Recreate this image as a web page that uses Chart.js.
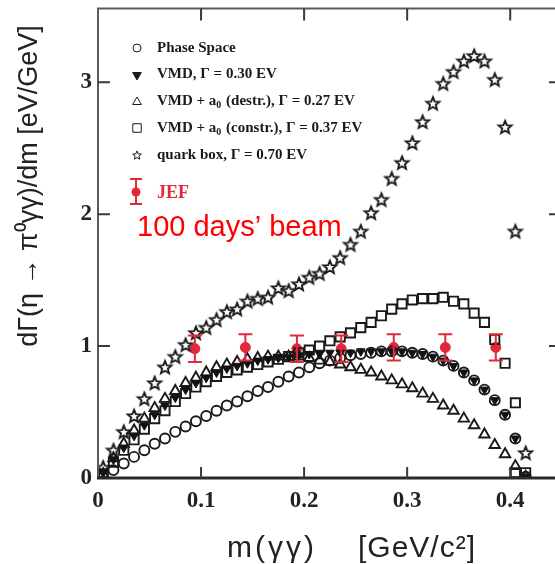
<!DOCTYPE html>
<html>
<head>
<meta charset="utf-8">
<script src="https://cdn.jsdelivr.net/npm/chart.js@4.4.1/dist/chart.umd.min.js"></script>
<style>
  html, body { margin: 0; padding: 0; background: #fff; overflow: hidden; }
  #wrap { width: 555px; height: 564px; position: relative; }
</style>
</head>
<body>
<div id="wrap"><canvas id="chart" width="555" height="564"></canvas></div>
<script>
// m(gamma gamma) bin centres of the model curves [GeV/c^2]
const massBins = [0.005, 0.015, 0.025, 0.035, 0.045, 0.055, 0.065, 0.075, 0.085, 0.095,
                  0.105, 0.115, 0.125, 0.135, 0.145, 0.155, 0.165, 0.175, 0.185, 0.195,
                  0.205, 0.215, 0.225, 0.235, 0.245, 0.255, 0.265, 0.275, 0.285, 0.295,
                  0.305, 0.315, 0.325, 0.335, 0.345, 0.355, 0.365, 0.375, 0.385, 0.395,
                  0.405, 0.415];

const phaseSpace = [0.01, 0.06, 0.11, 0.16, 0.21, 0.26, 0.30, 0.35, 0.39, 0.43,
                    0.47, 0.51, 0.55, 0.58, 0.62, 0.66, 0.69, 0.73, 0.77, 0.80,
                    0.84, 0.87, 0.89, 0.91, 0.93, 0.94, 0.95, 0.96, 0.96, 0.96,
                    0.95, 0.94, 0.92, 0.89, 0.85, 0.80, 0.74, 0.67, 0.59, 0.48,
                    0.30, 0.01];

const vmd = [0.04, 0.14, 0.23, 0.32, 0.40, 0.48, 0.55, 0.61, 0.67, 0.72,
             0.76, 0.80, 0.83, 0.85, 0.87, 0.89, 0.90, 0.91, 0.92, 0.93,
             0.94, 0.94, 0.95, 0.95, 0.95, 0.96, 0.96, 0.96, 0.96, 0.96,
             0.95, 0.94, 0.92, 0.89, 0.85, 0.80, 0.74, 0.67, 0.59, 0.48,
             0.30, 0.01];

const vmdDestr = [0.03, 0.15, 0.26, 0.36, 0.45, 0.53, 0.60, 0.66, 0.72, 0.76,
                  0.80, 0.84, 0.86, 0.88, 0.90, 0.91, 0.92, 0.92, 0.92, 0.92,
                  0.91, 0.89, 0.88, 0.86, 0.84, 0.82, 0.80, 0.77, 0.74, 0.71,
                  0.68, 0.64, 0.60, 0.55, 0.51, 0.45, 0.40, 0.33, 0.25, 0.18,
                  0.09, 0.01];

const vmdConstr = [0.03, 0.12, 0.21, 0.29, 0.37, 0.45, 0.51, 0.58, 0.64, 0.69,
                   0.73, 0.77, 0.80, 0.82, 0.84, 0.86, 0.88, 0.90, 0.92, 0.95,
                   0.97, 1.00, 1.04, 1.07, 1.10, 1.14, 1.18, 1.23, 1.28, 1.32,
                   1.35, 1.36, 1.36, 1.37, 1.34, 1.32, 1.25, 1.18, 1.05, 0.87,
                   0.57, 0.04];
const constrTailX = [0.405];
const constrTailY = [0.04];

const quarkBox = [0.08, 0.21, 0.35, 0.47, 0.60, 0.72, 0.84, 0.92, 1.01, 1.10,
                  1.14, 1.20, 1.26, 1.28, 1.34, 1.36, 1.37, 1.44, 1.42, 1.47,
                  1.52, 1.55, 1.60, 1.67, 1.77, 1.87, 2.01, 2.11, 2.27, 2.39,
                  2.54, 2.70, 2.84, 2.99, 3.08, 3.16, 3.20, 3.16, 3.02, 2.66,
                  1.87, 0.19];

// JEF projection, 100 days of beam
const jefMass = [0.094, 0.143, 0.193, 0.236, 0.287, 0.337, 0.386];
const jefRate = [0.98, 0.99, 0.98, 0.98, 0.99, 0.99, 0.99];
const jefErr  = [0.10, 0.10, 0.10, 0.10, 0.10, 0.10, 0.10];

const xTicks = [0, 0.1, 0.2, 0.3, 0.4];
const xTickLabels = ['0', '0.1', '0.2', '0.3', '0.4'];
const yTicks = [0, 1, 2, 3];
const yTickLabels = ['0', '1', '2', '3'];

const legendLabels = ['Phase Space', 'VMD, \u0393 = 0.30 EV', 'VMD + a_0 (destr.), \u0393 = 0.27 EV',
                      'VMD + a_0 (constr.), \u0393 = 0.37 EV', 'quark box, \u0393 = 0.70 EV'];

const INK = '#1a1a1a';
const RED = '#e2283a';

function pts(xs, ys) { return xs.map((x, i) => ({ x: x, y: ys[i] })); }

function starImage(outer, inner, lw) {
  const s = Math.ceil(outer * 2 + lw * 2 + 2);
  const c = document.createElement('canvas');
  c.width = s; c.height = s;
  const g = c.getContext('2d');
  g.beginPath();
  for (let i = 0; i < 10; i++) {
    const r = i % 2 ? inner : outer;
    const a = -Math.PI / 2 + i * Math.PI / 5;
    const px = s / 2 + r * Math.cos(a), py = s / 2 + 0.5 + r * Math.sin(a);
    i ? g.lineTo(px, py) : g.moveTo(px, py);
  }
  g.closePath();
  g.fillStyle = '#fff'; g.fill();
  g.lineWidth = lw; g.strokeStyle = INK; g.lineJoin = 'miter'; g.stroke();
  return c;
}
const starBig = starImage(6.8, 3.0, 1.9);
const starSmall = starImage(4.6, 2.0, 1.0);

// text with "_0" written as a subscript zero
function richText(ctx, text, x, y) {
  const parts = text.split('_0');
  let cx = x;
  parts.forEach((p, i) => {
    ctx.fillText(p, cx, y);
    cx += ctx.measureText(p).width;
    if (i < parts.length - 1) {
      const f = ctx.font;
      ctx.font = 'bold 10px "Liberation Serif"';
      ctx.fillText('0', cx, y + 4);
      cx += ctx.measureText('0').width + 1;
      ctx.font = f;
    }
  });
}

const decor = {
  id: 'decor',
  afterDatasetsDraw(chart) {
    const { ctx, chartArea: a, scales: { x, y } } = chart;
    const edge = chart.width;   // the frame runs on past the right side of the picture
    ctx.save();
    // JEF error bars
    ctx.strokeStyle = RED; ctx.lineWidth = 2;
    jefMass.forEach((m, i) => {
      const px = x.getPixelForValue(m);
      const y1 = y.getPixelForValue(jefRate[i] + jefErr[i]);
      const y2 = y.getPixelForValue(jefRate[i] - jefErr[i]);
      ctx.beginPath();
      ctx.moveTo(px, y1); ctx.lineTo(px, y2);
      ctx.moveTo(px - 7, y1); ctx.lineTo(px + 7, y1);
      ctx.moveTo(px - 7, y2); ctx.lineTo(px + 7, y2);
      ctx.stroke();
    });
    // frame
    ctx.strokeStyle = '#5a5a5a'; ctx.lineWidth = 2;
    ctx.beginPath();
    ctx.moveTo(a.left, a.bottom); ctx.lineTo(a.left, a.top); ctx.lineTo(edge, a.top);
    ctx.stroke();
    ctx.strokeStyle = '#2a2a2a'; ctx.lineWidth = 3;
    ctx.beginPath(); ctx.moveTo(a.left - 1, a.bottom); ctx.lineTo(edge, a.bottom); ctx.stroke();
    // inward tick marks
    ctx.strokeStyle = '#3a3a3a'; ctx.lineWidth = 2;
    ctx.beginPath();
    xTicks.slice(1).forEach(v => {
      const px = x.getPixelForValue(v);
      ctx.moveTo(px, a.bottom); ctx.lineTo(px, a.bottom - 11);
      ctx.moveTo(px, a.top); ctx.lineTo(px, a.top + 12);
    });
    yTicks.slice(1).forEach(v => {
      const py = y.getPixelForValue(v);
      ctx.moveTo(a.left, py); ctx.lineTo(a.left + 12, py);
      ctx.moveTo(edge, py); ctx.lineTo(edge - 6, py);
    });
    ctx.stroke();
    ctx.restore();
  },
  afterDraw(chart) {
    const { ctx } = chart;
    ctx.save();
    // legend
    const rows = [48, 74, 101, 128, 155];
    const sx = 137, tx = 157;
    const H = Chart.helpers;
    ctx.strokeStyle = INK;
    ctx.fillStyle = 'rgba(0,0,0,0)';
    H.drawPoint(ctx, { pointStyle: 'circle', radius: 4, borderWidth: 1, rotation: 0 }, sx, rows[0]);
    ctx.fillStyle = INK;
    H.drawPoint(ctx, { pointStyle: 'triangle', radius: 5, borderWidth: 1, rotation: 180 }, sx, rows[1] + 1);
    ctx.fillStyle = 'rgba(0,0,0,0)';
    H.drawPoint(ctx, { pointStyle: 'triangle', radius: 5, borderWidth: 1, rotation: 0 }, sx, rows[2] + 1);
    H.drawPoint(ctx, { pointStyle: 'rect', radius: 6, borderWidth: 1, rotation: 0 }, sx, rows[3]);
    ctx.drawImage(starSmall, sx - starSmall.width / 2, rows[4] - starSmall.height / 2);

    ctx.fillStyle = INK;
    ctx.font = 'bold 15px "Liberation Serif"';
    ctx.textBaseline = 'middle';
    ctx.textAlign = 'left';
    legendLabels.forEach((t, i) => richText(ctx, t, tx, rows[i]));

    // JEF legend entry
    ctx.strokeStyle = RED; ctx.fillStyle = RED; ctx.lineWidth = 2;
    ctx.beginPath();
    ctx.moveTo(sx - 1, 179); ctx.lineTo(sx - 1, 204);
    ctx.moveTo(sx - 7, 179); ctx.lineTo(sx + 5, 179);
    ctx.moveTo(sx - 7, 204); ctx.lineTo(sx + 5, 204);
    ctx.stroke();
    ctx.beginPath(); ctx.arc(sx - 1, 192, 4.5, 0, Math.PI * 2); ctx.fill();
    ctx.font = 'bold 18px "Liberation Serif"';
    ctx.fillText('JEF', tx, 193);

    // annotation
    ctx.fillStyle = '#ff0000';
    ctx.font = '29px "Liberation Sans"';
    ctx.textBaseline = 'alphabetic';
    ctx.fillText('100 days\u2019 beam', 137, 236);

    // axis titles
    ctx.fillStyle = '#222';
    ctx.font = '30px "Liberation Sans"';
    ctx.textAlign = 'left';
    ctx.textBaseline = 'alphabetic';
    ctx.letterSpacing = '3px';
    ctx.fillText('m(\u03b3\u03b3)', 227, 557);
    ctx.letterSpacing = '1px';
    ctx.fillText('[GeV/c\u00b2]', 358, 557);
    ctx.letterSpacing = '0px';
    ctx.translate(37, 186);
    ctx.rotate(-Math.PI / 2);
    ctx.textAlign = 'center';
    ctx.font = '27px "Liberation Sans"';
    ctx.fillText('d\u0393(\u03b7 \u2192 \u03c0\u2070\u03b3\u03b3)/dm [eV/GeV]', 0, 0);
    ctx.restore();
  }
};

const tickFont = { family: '"Liberation Serif"', size: 23, weight: 'bold' };

new Chart(document.getElementById('chart'), {
  type: 'scatter',
  data: {
    datasets: [
      { label: 'Phase Space', data: pts(massBins, phaseSpace), pointStyle: 'circle', pointRadius: 5,
        borderWidth: 1.9, borderColor: INK, backgroundColor: 'rgba(0,0,0,0)' },
      { label: 'VMD', data: pts(massBins, vmd), pointStyle: 'triangle', pointRotation: 180, pointRadius: 5,
        borderWidth: 1, borderColor: '#111', backgroundColor: '#111' },
      { label: 'VMD + a0 (destr.)', data: pts(massBins, vmdDestr), pointStyle: 'triangle', pointRadius: 6,
        borderWidth: 1.9, borderColor: INK, backgroundColor: 'rgba(0,0,0,0)' },
      { label: 'VMD + a0 (constr.)', data: pts(massBins, vmdConstr).concat(pts(constrTailX, constrTailY)),
        pointStyle: 'rect', pointRadius: 6.5, borderWidth: 1.9, borderColor: INK, backgroundColor: 'rgba(0,0,0,0)' },
      { label: 'quark box', data: pts(massBins, quarkBox), pointStyle: starBig, pointRadius: 6 },
      { label: 'JEF', data: pts(jefMass, jefRate), pointStyle: 'circle', pointRadius: 5,
        borderWidth: 1, borderColor: RED, backgroundColor: RED }
    ]
  },
  options: {
    responsive: false,
    animation: false,
    layout: { padding: { left: 0, top: 8, right: 0, bottom: 0 } },
    plugins: { legend: { display: false }, tooltip: { enabled: false } },
    elements: { point: { hoverRadius: 5 } },
    scales: {
      x: {
        type: 'linear', min: 0, max: 0.4353,
        afterBuildTicks: s => { s.ticks = xTicks.map(v => ({ value: v })); },
        afterFit: s => { s.height = 86; s.paddingLeft = 0; s.paddingRight = 0; },
        grid: { display: false, drawTicks: false },
        border: { display: false },
        ticks: { font: tickFont, color: '#222', padding: 9, maxRotation: 0,
                 callback: (v, i) => xTickLabels[i] }
      },
      y: {
        type: 'linear', min: 0, max: 3.56,
        afterBuildTicks: s => { s.ticks = yTicks.map(v => ({ value: v })); },
        afterFit: s => { s.width = 98; s.paddingTop = 0; s.paddingBottom = 0; },
        grid: { display: false, drawTicks: false },
        border: { display: false },
        ticks: { font: tickFont, color: '#222', padding: 6,
                 callback: (v, i) => yTickLabels[i] }
      }
    }
  },
  plugins: [decor]
});
</script>
</body>
</html>
